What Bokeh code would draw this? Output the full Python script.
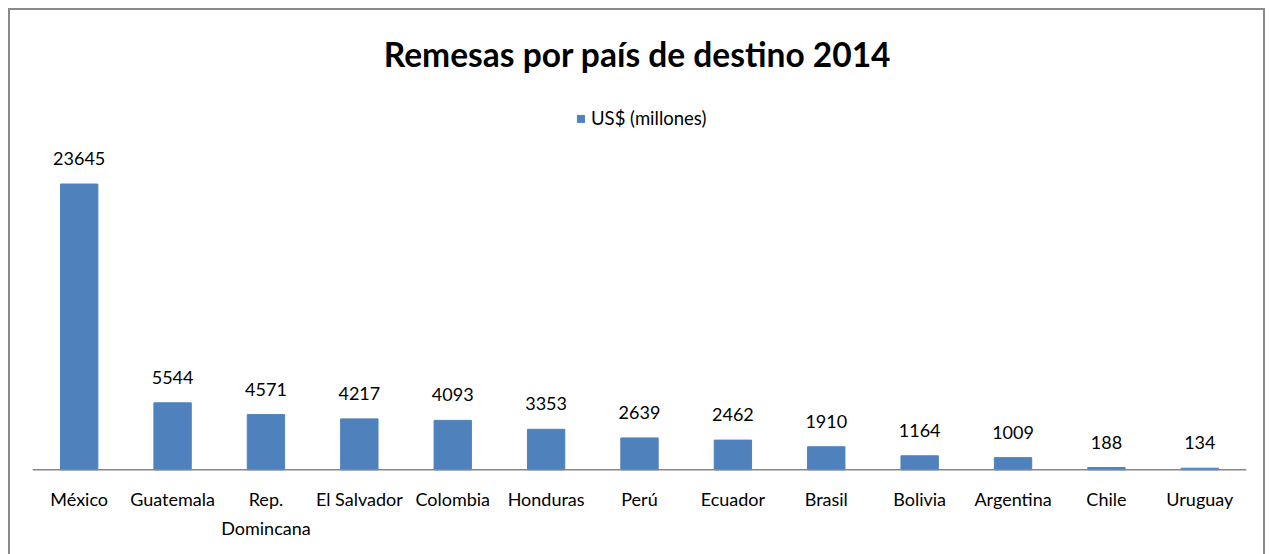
from bokeh.plotting import figure
from bokeh.models import ColumnDataSource, LabelSet, Label, Legend, LegendItem, Range1d, Span
from bokeh.core.properties import value
from bokeh.embed import file_html
from bokeh.resources import INLINE

countries = ["México", "Guatemala", "Rep. Domincana", "El Salvador", "Colombia", "Honduras",
             "Perú", "Ecuador", "Brasil", "Bolivia", "Argentina", "Chile", "Uruguay"]
remesas = [23645, 5544, 4571, 4217, 4093, 3353, 2639, 2462, 1910, 1164, 1009, 188, 134]
tick_labels = ["México", "Guatemala", "Rep.\nDomincana", "El Salvador", "Colombia", "Honduras",
               "Perú", "Ecuador", "Brasil", "Bolivia", "Argentina", "Chile", "Uruguay"]
series_name = "US$ (millones)"
title_text = "Remesas por país de destino 2014"

FONT = "Lato"
BORDER = 2
W, H = 1257, 548               # outer size including the 2px border
CW, CH = W - 2 * BORDER, H - 2 * BORDER   # canvas size
AXIS_MAX = 25000
PLOT_PX = 300          # pixel height of 0..AXIS_MAX
AXIS_FROM_TOP = 456    # pixel position of baseline inside canvas
upp = AXIS_MAX / PLOT_PX
y_start = -(CH - AXIS_FROM_TOP) * upp
y_end = AXIS_FROM_TOP * upp

src = ColumnDataSource(dict(x=countries, y=remesas, lbl=[str(v) for v in remesas],
                            tick=tick_labels, zero=[0] * len(countries)))

p = figure(x_range=countries, y_range=Range1d(y_start, y_end), width=W, height=H,
           output_backend="svg", toolbar_location=None,
           x_axis_location=None, y_axis_location=None,
           min_border_left=22, min_border_right=21, min_border_top=0, min_border_bottom=0)
p.styles = {"border": f"{BORDER}px solid #8a8a8a"}
p.margin = (8, 0, 0, 8)
p.xgrid.visible = False
p.ygrid.visible = False
p.outline_line_color = None
p.x_range.range_padding = 0

r = p.vbar(x="x", top="y", width=0.4, source=src, fill_color="#4F81BD", line_color="#4F81BD")

p.add_layout(Span(location=0, dimension="width", line_color="#868686", line_width=1.5))

labels = LabelSet(x="x", y="y", text="lbl", source=src, text_align="center",
                  text_baseline="bottom", y_offset=19, text_font=value(FONT),
                  text_font_size=value("18px"), text_color="#000000")
p.add_layout(labels)

p.text(x="x", y="zero", text="tick", source=src, text_align="center", text_baseline="top",
       y_offset=18, text_font=value(FONT), text_font_size=value("18px"),
       text_color="#000000", text_line_height=1.32)

title = Label(x=605, y=CH - 39, x_units="screen", y_units="screen", text=title_text,
              text_align="center", text_baseline="middle", text_font=FONT,
              text_font_size="33.5px", text_font_style="bold", text_color="#000000")
p.add_layout(title)

legend = Legend(items=[LegendItem(label=series_name, renderers=[r])], location=(544, CH - 115),
                orientation="horizontal", glyph_width=9, glyph_height=9, label_standoff=6,
                padding=0, margin=0, border_line_color=None, background_fill_alpha=0,
                label_text_font=FONT, label_text_font_size="18.5px", label_text_color="#000000")
p.add_layout(legend)

open("out.html", "w").write(file_html(p, INLINE))
